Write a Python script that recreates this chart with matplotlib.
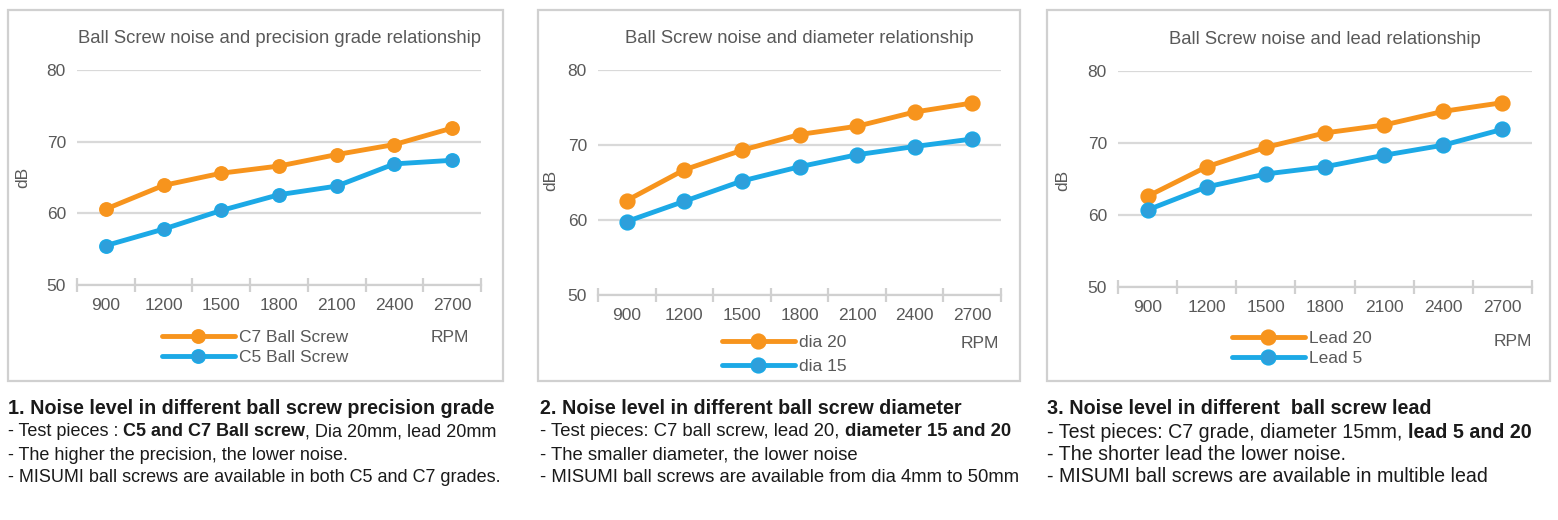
import matplotlib
matplotlib.use("Agg")
import matplotlib.pyplot as plt
import numpy as np
from matplotlib.patches import Rectangle

# ---------------- data ----------------
rpm = ["900", "1200", "1500", "1800", "2100", "2400", "2700"]
c7_ball = [60.6, 63.9, 65.6, 66.6, 68.2, 69.6, 71.9]
c5_ball = [55.5, 57.8, 60.4, 62.6, 63.8, 66.9, 67.4]
dia20 = [62.6, 66.7, 69.3, 71.4, 72.5, 74.4, 75.6]
dia15 = [59.8, 62.5, 65.2, 67.1, 68.7, 69.8, 70.8]
lead20 = [62.6, 66.7, 69.4, 71.4, 72.5, 74.4, 75.6]
lead5 = [60.7, 63.9, 65.7, 66.7, 68.3, 69.7, 71.9]
y_ticks = [50, 60, 70, 80]

titles = ["Ball Screw noise and precision grade relationship",
          "Ball Screw noise and diameter relationship",
          "Ball Screw noise and lead relationship"]
series = [(("C7 Ball Screw", c7_ball), ("C5 Ball Screw", c5_ball)),
          (("dia 20", dia20), ("dia 15", dia15)),
          (("Lead 20", lead20), ("Lead 5", lead5))]

captions = [
    [[("1. Noise level in different ball screw precision grade", "bold")],
     [("- Test pieces : ", "normal"), ("C5 and C7 Ball screw", "bold"), (", Dia 20mm, lead 20mm", "normal")],
     [("- The higher the precision, the lower noise.", "normal")],
     [("- MISUMI ball screws are available in both C5 and C7 grades.", "normal")]],
    [[("2. Noise level in different ball screw diameter", "bold")],
     [("- Test pieces: C7 ball screw, lead 20, ", "normal"), ("diameter 15 and 20", "bold")],
     [("- The smaller diameter, the lower noise", "normal")],
     [("- MISUMI ball screws are available from dia 4mm to 50mm", "normal")]],
    [[("3. Noise level in different  ball screw lead", "bold")],
     [("- Test pieces: C7 grade, diameter 15mm, ", "normal"), ("lead 5 and 20", "bold")],
     [("- The shorter lead the lower noise.", "normal")],
     [("- MISUMI ball screws are available in multible lead", "normal")]],
]

# ---------------- style / layout ----------------
W, H = 1558, 520
plt.rcParams['font.family'] = ['Liberation Sans', 'DejaVu Sans']
ORANGE = "#F7941D"
BLUE = "#1CA9E6"
BLUE_FACE = "#2E9FDB"
GRID = "#D9D9D9"
AXC = "#D0D0D0"
TXT = "#595959"
FS = 12.5

fig = plt.figure(figsize=(W / 100, H / 100), dpi=100)
fig.patch.set_facecolor("white")

boxes = [(8, 10, 503, 381), (538, 10, 1020, 381), (1047, 10, 1550, 381)]
axes_px = [(77, 70, 481, 285), (598, 70, 1001, 295), (1118, 71, 1532, 287)]
dB_pos = [(30, 177), (558, 180), (1070, 180)]
rpm_pos = [(450, 338), (980, 343), (1513, 342)]
leg_pos = [(162, 347.5), (722, 354.5), (1232, 348.5)]
leg_space = [0.3, 0.55, 0.28]
msizes = [9.5, 10.5, 10.5]
text_x = [8, 540, 1047]
text_y = [408, 432, 455, 477]
head_size = [14.2, 14.2, 14.2]
body_size = [13.0, 13.3, 14.1]


def fx(px):
    return px / W


def fy(py):
    return 1 - py / H


for i in range(3):
    x0, y0, x1, y1 = boxes[i]
    fig.patches.append(Rectangle((fx(x0), fy(y1)), fx(x1 - x0), (y1 - y0) / H,
                                 transform=fig.transFigure, fill=False,
                                 edgecolor=AXC, lw=1.6))
    l, t, r, b = axes_px[i]
    ax = fig.add_axes([fx(l), fy(b), fx(r - l), (b - t) / H])
    ax.set_facecolor("none")
    handles = []
    for (name, vals), col, face in zip(series[i], [ORANGE, BLUE], [ORANGE, BLUE_FACE]):
        h, = ax.plot(rpm, vals, color=col, lw=3.5, marker="o", ms=msizes[i],
                     markerfacecolor=face, markeredgecolor=col, markeredgewidth=1.2,
                     solid_capstyle="round", zorder=3, label=name)
        handles.append(h)
    ax.set_xlim(-0.5, 6.5)
    ax.set_ylim(50, 80)
    ax.set_yticks(y_ticks)
    ax.yaxis.grid(True, color=GRID, lw=1.6)
    ax.set_axisbelow(True)
    for s in ["top", "right", "left"]:
        ax.spines[s].set_visible(False)
    ax.spines["bottom"].set_color(AXC)
    ax.spines["bottom"].set_linewidth(1.6)
    ax.tick_params(axis="y", length=0, pad=8, labelsize=FS, labelcolor=TXT)
    ax.tick_params(axis="x", which="major", length=0, pad=9, labelsize=FS, labelcolor=TXT)
    ax.set_xticks(np.arange(-0.5, 7.0, 1.0), minor=True)
    ax.tick_params(axis="x", which="minor", direction="inout", length=10, width=1.6, color=AXC)
    ax.set_title(titles[i], fontsize=13.3, color=TXT, pad=19.5)
    ax.set_ylabel("dB", fontsize=FS, color=TXT)
    ax.yaxis.set_label_coords(fx(dB_pos[i][0]), fy(dB_pos[i][1]), transform=fig.transFigure)
    ax.set_xlabel("RPM", fontsize=FS, color=TXT)
    ax.xaxis.set_label_coords(fx(rpm_pos[i][0]), fy(rpm_pos[i][1]), transform=fig.transFigure)
    ax.xaxis.label.set_va("center")
    lx, ly = leg_pos[i]
    ax.legend(handles=handles, loc="center left", bbox_to_anchor=(fx(lx), fy(ly)),
              bbox_transform=fig.transFigure, frameon=False, fontsize=FS,
              labelcolor=TXT, handlelength=4.2, handletextpad=0.25, borderpad=0,
              labelspacing=leg_space[i], borderaxespad=0, markerscale=1.0)

renderer = fig.canvas.get_renderer()


def advance(s, weight, size):
    t1 = fig.text(0, 0, s + "l", fontsize=size, weight=weight)
    t2 = fig.text(0, 0, "l", fontsize=size, weight=weight)
    w = t1.get_window_extent(renderer).width - t2.get_window_extent(renderer).width
    t1.remove()
    t2.remove()
    return w


for i in range(3):
    for j, line in enumerate(captions[i]):
        x = text_x[i]
        size = head_size[i] if j == 0 else body_size[i]
        for s, wgt in line:
            fig.text(fx(x), fy(text_y[j]), s, fontsize=size, weight=wgt,
                     color="#1A1A1A", va="center", ha="left")
            x += advance(s, wgt, size)

fig.savefig("out.png", dpi=100, facecolor="white")
